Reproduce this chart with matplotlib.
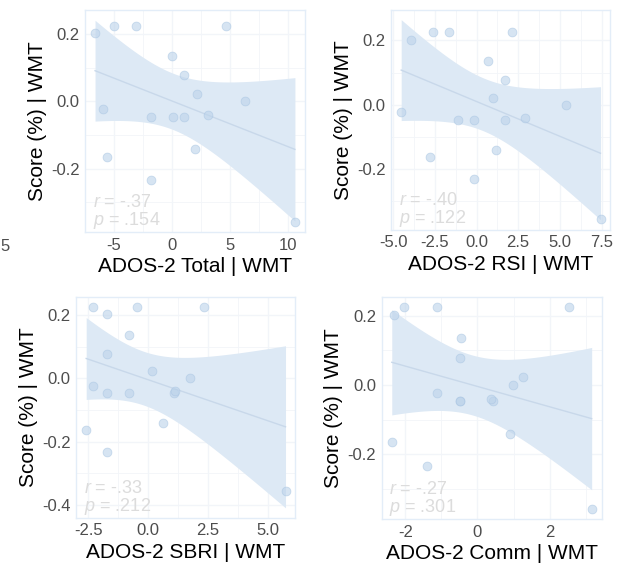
import numpy as np
import matplotlib
matplotlib.use('Agg')
import matplotlib.pyplot as plt
from matplotlib.ticker import FixedLocator, FormatStrFormatter

plt.rcParams['font.family'] = ['Liberation Sans', 'DejaVu Sans']
plt.rcParams['axes.unicode_minus'] = False
plt.rcParams['mathtext.fontset'] = 'custom'
plt.rcParams['mathtext.it'] = 'Liberation Sans:italic'
plt.rcParams['mathtext.rm'] = 'Liberation Sans'

# score residuals (same subjects in every panel)
score = [0.202, 0.225, 0.225, 0.225, 0.136, 0.077, 0.022, 0.0, -0.024,
         -0.047, -0.047, -0.047, -0.041, -0.142, -0.164, -0.233, -0.358]

# ADOS-2 residuals per panel
ados_total = [-6.61, -4.97, -3.05, 4.66, 0.0, 1.06, 2.16, 6.29, -5.92,
              -1.81, 0.09, 1.06, 3.13, 1.98, -5.55, -1.81, 10.63]
ados_rsi = [-3.93, -2.64, -1.65, 2.12, 0.67, 1.73, 0.99, 5.34, -4.52,
            -1.09, -0.16, 1.73, 2.88, 1.19, -2.80, -0.16, 7.44]
ados_sbri = [-1.69, -2.30, -0.47, 2.35, -0.78, -1.69, 0.19, 1.75, -2.30,
             -1.69, -0.78, 1.08, 1.12, 0.61, -2.58, -1.69, 5.75]
ados_comm = [-2.32, -2.03, -1.12, 2.55, -0.46, -0.49, 1.27, 0.99, -1.12,
             -0.49, -0.49, 0.44, 0.37, 0.90, -2.38, -1.39, 3.17]

xlabels = ['ADOS-2 Total | WMT', 'ADOS-2 RSI | WMT',
           'ADOS-2 SBRI | WMT', 'ADOS-2 Comm | WMT']
stats_r = ['-.37', '-.40', '-.33', '-.27']
stats_p = ['.154', '.122', '.212', '.301']
xticks = [[-5, 0, 5, 10], [-5, -2.5, 0, 2.5, 5, 7.5],
          [-2.5, 0, 2.5, 5], [-2, 0, 2]]
xfmt = ['%g', '%.1f', '%.1f', '%g']
yticks = [[-0.2, 0.0, 0.2], [-0.2, 0.0, 0.2],
          [-0.4, -0.2, 0.0, 0.2], [-0.2, 0.0, 0.2]]

# panel boxes in figure fraction
boxes = [[0.135, 0.590, 0.349, 0.392],
         [0.621, 0.594, 0.348, 0.389],
         [0.121, 0.085, 0.348, 0.390],
         [0.606, 0.083, 0.349, 0.392]]

T_CRIT = 2.131  # t(0.975, df=15)

blue_band = '#dde9f5'
blue_line = '#c8d8ea'
border = '#e3edf8'
grid_c = '#f2f5f9'

fig = plt.figure(figsize=(6.3, 5.66), dpi=100)

for i, xs in enumerate([ados_total, ados_rsi, ados_sbri, ados_comm]):
    ax = fig.add_axes(boxes[i])
    x = np.array(xs)
    y = np.array(score)
    n = len(x)
    b, a = np.polyfit(x, y, 1)
    xx = np.linspace(x.min(), x.max(), 100)
    yy = a + b * xx
    resid = y - (a + b * x)
    s = np.sqrt(np.sum(resid ** 2) / (n - 2))
    se = s * np.sqrt(1 / n + (xx - x.mean()) ** 2 / np.sum((x - x.mean()) ** 2))
    lo, hi = yy - T_CRIT * se, yy + T_CRIT * se

    ax.fill_between(xx, lo, hi, color=blue_band, lw=0, zorder=2)
    ax.plot(xx, yy, color=blue_line, lw=1.0, zorder=3)
    ax.scatter(x, y, s=40, color='#bcd3ea', alpha=0.6,
               edgecolors='#aac6e3', linewidths=0.6, zorder=4)

    # ggplot-like 5% expansion
    xr = x.max() - x.min()
    ax.set_xlim(x.min() - 0.05 * xr, x.max() + 0.05 * xr)
    ymin = min(y.min(), lo.min())
    ymax = max(y.max(), hi.max())
    yr = ymax - ymin
    ax.set_ylim(ymin - 0.05 * yr, ymax + 0.05 * yr)

    xt = xticks[i]
    ax.xaxis.set_major_locator(FixedLocator(xt))
    step = xt[1] - xt[0]
    minor_x = np.arange(xt[0] - step / 2, xt[-1] + step, step)
    ax.xaxis.set_minor_locator(FixedLocator(minor_x))
    ax.xaxis.set_major_formatter(FormatStrFormatter(xfmt[i]))
    yt = yticks[i]
    ax.yaxis.set_major_locator(FixedLocator(yt))
    ax.yaxis.set_minor_locator(FixedLocator(np.arange(yt[0] - 0.1, 0.35, 0.2)))
    ax.yaxis.set_major_formatter(FormatStrFormatter('%.1f'))

    ax.grid(True, which='major', color=grid_c, lw=1.0, zorder=0)
    ax.grid(True, which='minor', color=grid_c, lw=0.6, zorder=0)
    ax.set_axisbelow(True)
    for sp in ax.spines.values():
        sp.set_color(border)
        sp.set_linewidth(1.0)
    ax.tick_params(which='both', length=0, labelsize=12, colors='#4d4d4d', pad=4)

    ax.set_xlabel(xlabels[i], fontsize=15, color='black', labelpad=3)
    ax.set_ylabel('Score (%) | WMT', fontsize=15, color='black', labelpad=3)

    ax.text(0.035, 0.095, r'$\it{r}$ = ' + stats_r[i], transform=ax.transAxes,
            fontsize=13, color='#dcdcdc', va='bottom', ha='left', zorder=5)
    ax.text(0.035, 0.005, r'$\it{p}$ = ' + stats_p[i], transform=ax.transAxes,
            fontsize=13, color='#dcdcdc', va='bottom', ha='left', zorder=5)

# clipped tick label at far left
fig.text(0.008, 0.564, '5', fontsize=12, color='#4d4d4d', ha='center', va='center')

fig.savefig('out.png', dpi=100)
